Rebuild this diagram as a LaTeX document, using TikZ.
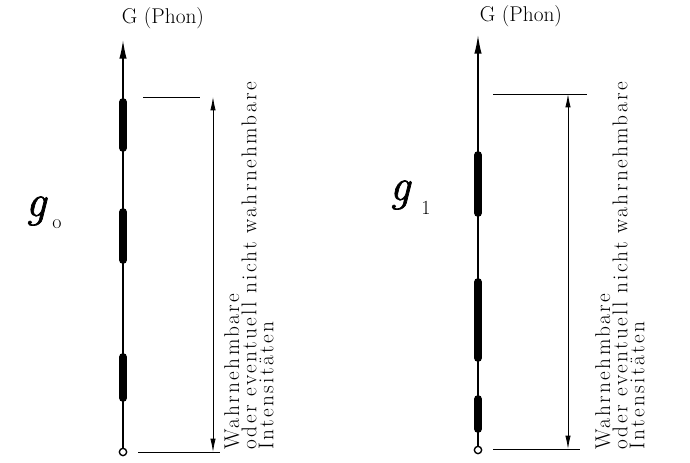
\documentclass[tikz,border=0pt]{standalone}
\usepackage{fontspec}
\newfontfamily\sidefont{Latin Modern Roman}[LetterSpace=11]
\newfontfamily\symfont{Latin Modern Roman}[FakeBold=1.5]
\usetikzlibrary{arrows.meta}
\tikzset{
  axisline/.style={line width=1pt, -{Latex[length=14pt,width=5.5pt]}},
  barseg/.style={line width=5.8pt, line cap=round},
  dimline/.style={line width=0.6pt, {Latex[length=10pt,width=4pt]}-{Latex[length=10pt,width=4pt]}},
  refline/.style={line width=0.6pt},
  origin/.style={circle, draw, line width=1pt, minimum size=5.5pt, inner sep=0pt, fill=white},
  lbl/.style={font=\fontsize{16}{18}\selectfont, inner sep=0pt},
  sidetext/.style={rotate=90, anchor=north west, inner sep=0pt, align=left,
     font=\sidefont\fontsize{16}{12.9}\selectfont},
  sym/.style={font=\symfont\itshape\fontsize{34}{34}\selectfont, inner sep=0pt},
  sub/.style={font=\fontsize{15}{15}\selectfont, inner sep=0pt}
}
\begin{document}
\begin{tikzpicture}[x=0.75pt,y=-0.75pt]
\useasboundingbox (0,0) rectangle (690,463);
% ---------- left diagram ----------
\node[lbl] (gl) at (163,18) {G (Phon)};
\node[origin] (cl) at (123,452) {};
\coordinate (tl) at (123,40);
\draw[axisline] (cl.north) -- (tl);
\coordinate (bl1a) at (123,102); \coordinate (bl1b) at (123,148);
\coordinate (bl2a) at (123,212); \coordinate (bl2b) at (123,260);
\coordinate (bl3a) at (123,357); \coordinate (bl3b) at (123,398);
\draw[barseg] (bl1a) -- (bl1b);
\draw[barseg] (bl2a) -- (bl2b);
\draw[barseg] (bl3a) -- (bl3b);
\coordinate (ul1) at (143,97); \coordinate (ul2) at (200,97);
\draw[refline] (ul1) -- (ul2);
\coordinate (ll1) at (138,452); \coordinate (ll2) at (220,452);
\draw[refline] (ll1) -- (ll2);
\coordinate (dl1) at (213,97); \coordinate (dl2) at (213,452);
\draw[dimline] (dl1) -- (dl2);
\node[sidetext] (txl) at (224,450) {Wahrnehmbare\\oder eventuell nicht wahrnehmbare\\Intensitäten};
\node[sym] (g0) at (36,211) {g};
\node[sub] (s0) at (57,224) {o};
% ---------- right diagram ----------
\node[lbl] (gr) at (521,16) {G (Phon)};
\node[origin] (cr) at (478,450) {};
\coordinate (tr) at (478,35);
\draw[axisline] (cr.north) -- (tr);
\coordinate (br1a) at (478,155); \coordinate (br1b) at (478,213);
\coordinate (br2a) at (478,282); \coordinate (br2b) at (478,358);
\coordinate (br3a) at (478,399); \coordinate (br3b) at (478,429);
\draw[barseg] (br1a) -- (br1b);
\draw[barseg] (br2a) -- (br2b);
\draw[barseg] (br3a) -- (br3b);
\coordinate (ur1) at (493,94); \coordinate (ur2) at (587,94);
\draw[refline] (ur1) -- (ur2);
\coordinate (lr1) at (493,449); \coordinate (lr2) at (580,449);
\draw[refline] (lr1) -- (lr2);
\coordinate (dr1) at (568,94); \coordinate (dr2) at (568,449);
\draw[dimline] (dr1) -- (dr2);
\node[sidetext] (txr) at (595,450) {Wahrnehmbare\\oder eventuell nicht wahrnehmbare\\Intensitäten};
\node[sym] (g1) at (400,195) {g};
\node[sub] (s1) at (426,208) {1};
\end{tikzpicture}
\end{document}
